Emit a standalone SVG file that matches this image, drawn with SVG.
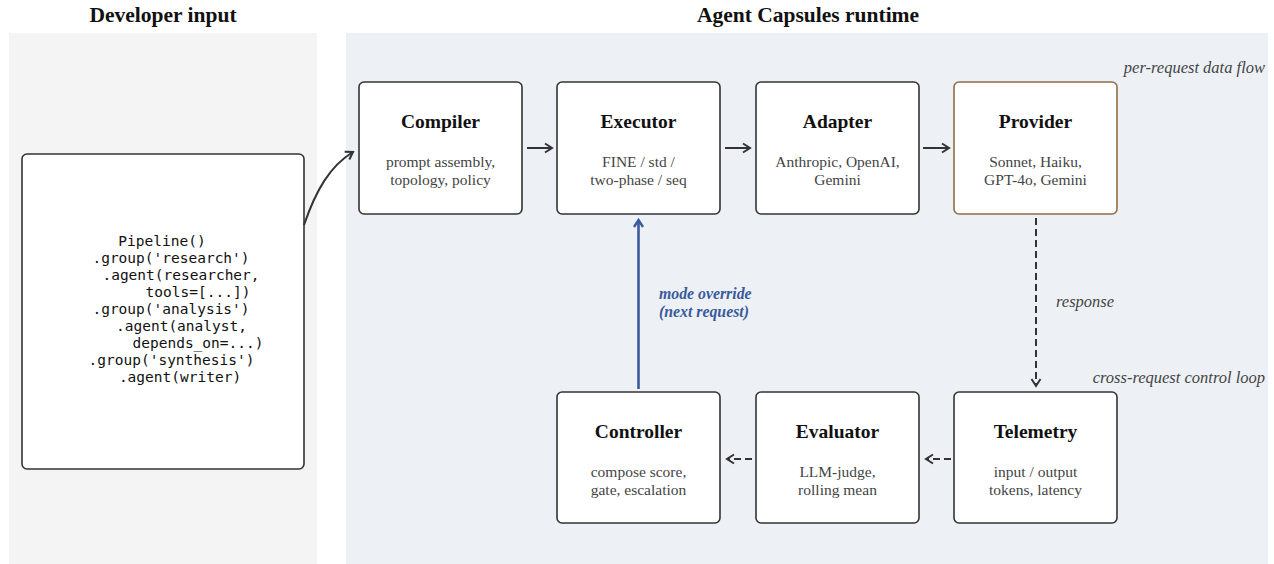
<svg xmlns="http://www.w3.org/2000/svg" width="1274" height="564" viewBox="0 0 1274 564">
<defs>
<style>
.panelL{fill:#f4f4f4}
.panelR{fill:#edf1f5}
.hdr{font-family:"Liberation Serif",serif;font-weight:bold;font-size:21.5px;fill:#111;text-anchor:middle}
.box{fill:#fff;stroke:#333;stroke-width:1.6}
.prov{fill:#fff;stroke:#8e6f42;stroke-width:1.6}
.t{font-family:"Liberation Serif",serif;font-weight:bold;font-size:19.5px;fill:#111;text-anchor:middle}
.s{font-family:"Liberation Serif",serif;font-size:15.5px;fill:#444;text-anchor:middle}
.code{font-family:"DejaVu Sans Mono",monospace;font-size:14.5px;fill:#111;text-anchor:middle}
.note{font-family:"Liberation Serif",serif;font-style:italic;font-size:16.5px;fill:#444}
.blue{font-family:"Liberation Serif",serif;font-style:italic;font-weight:bold;font-size:15.8px;fill:#3a5a9c}
.c{fill:none;stroke:#333;stroke-width:2}
.d{fill:none;stroke:#333;stroke-width:2;stroke-dasharray:7,4}
.b{fill:none;stroke:#3a5a9c;stroke-width:2.6}
</style>
<marker id="ah" viewBox="0 0 12 12" refX="10" refY="6" markerWidth="12" markerHeight="12" markerUnits="userSpaceOnUse" orient="auto">
<path d="M3,1.5 L10,6 L3,10.5" fill="none" stroke="#333" stroke-width="2"/>
</marker>
<marker id="ahb" viewBox="0 0 12 12" refX="10" refY="6" markerWidth="12" markerHeight="12" markerUnits="userSpaceOnUse" orient="auto">
<path d="M3,1.5 L10,6 L3,10.5" fill="none" stroke="#3a5a9c" stroke-width="2.4"/>
</marker>
</defs>

<g id="panels">
<rect class="panelL" x="9" y="33" width="308" height="531"/>
<rect class="panelR" x="346" y="33" width="922" height="531"/>
<text class="hdr" x="163" y="22">Developer input</text>
<text class="hdr" x="808" y="22">Agent Capsules runtime</text>
</g>

<g id="code">
<rect class="box" x="22" y="154" width="282" height="315" rx="5"/>
<text class="code" x="162" y="246">Pipeline()</text>
<text class="code" x="171" y="263">.group('research')</text>
<text class="code" x="181" y="280">.agent(researcher,</text>
<text class="code" x="198" y="297">tools=[...])</text>
<text class="code" x="171" y="314">.group('analysis')</text>
<text class="code" x="181.5" y="331">.agent(analyst,</text>
<text class="code" x="198" y="348">depends_on=...)</text>
<text class="code" x="171.5" y="365">.group('synthesis')</text>
<text class="code" x="180" y="382">.agent(writer)</text>
</g>

<g id="compiler">
<rect class="box" x="359" y="82" width="163" height="132" rx="5"/>
<text class="t" x="440.5" y="128">Compiler</text>
<text class="s" x="440.5" y="167">prompt assembly,</text>
<text class="s" x="440.5" y="185">topology, policy</text>
</g>
<g id="executor">
<rect class="box" x="557" y="82" width="163" height="132" rx="5"/>
<text class="t" x="638.5" y="128">Executor</text>
<text class="s" x="638.5" y="167">FINE / std /</text>
<text class="s" x="638.5" y="185">two-phase / seq</text>
</g>
<g id="adapter">
<rect class="box" x="756" y="82" width="163" height="132" rx="5"/>
<text class="t" x="837.5" y="128">Adapter</text>
<text class="s" x="837.5" y="167">Anthropic, OpenAI,</text>
<text class="s" x="837.5" y="185">Gemini</text>
</g>
<g id="provider">
<rect class="prov" x="954" y="82" width="163" height="132" rx="5"/>
<text class="t" x="1035.5" y="128">Provider</text>
<text class="s" x="1035.5" y="167">Sonnet, Haiku,</text>
<text class="s" x="1035.5" y="185">GPT-4o, Gemini</text>
</g>
<g id="controller">
<rect class="box" x="557" y="392" width="163" height="131" rx="5"/>
<text class="t" x="638.5" y="438">Controller</text>
<text class="s" x="638.5" y="477">compose score,</text>
<text class="s" x="638.5" y="495">gate, escalation</text>
</g>
<g id="evaluator">
<rect class="box" x="756" y="392" width="163" height="131" rx="5"/>
<text class="t" x="837.5" y="438">Evaluator</text>
<text class="s" x="837.5" y="477">LLM-judge,</text>
<text class="s" x="837.5" y="495">rolling mean</text>
</g>
<g id="telemetry">
<rect class="box" x="954" y="392" width="163" height="131" rx="5"/>
<text class="t" x="1035.5" y="438">Telemetry</text>
<text class="s" x="1035.5" y="477">input / output</text>
<text class="s" x="1035.5" y="495">tokens, latency</text>
</g>

<g id="connectors">
<path class="c" d="M304,225 C316,190 330,166 353,152" marker-end="url(#ah)"/>
<path class="c" d="M527,148 L552,148" marker-end="url(#ah)"/>
<path class="c" d="M725,148 L750,148" marker-end="url(#ah)"/>
<path class="c" d="M923,148 L949,148" marker-end="url(#ah)"/>
<path class="d" d="M1036,218 L1036,386" marker-end="url(#ah)"/>
<path class="d" d="M951,459 L926,459" marker-end="url(#ah)"/>
<path class="d" d="M752,459 L727,459" marker-end="url(#ah)"/>
<path class="b" d="M638.5,389 L638.5,220" marker-end="url(#ahb)"/>
<text class="note" x="1056" y="307">response</text>
<text class="blue" x="659" y="299">mode override</text>
<text class="blue" x="659" y="317">(next request)</text>
</g>
<g id="notes">
<text class="note" x="1265" y="73" text-anchor="end">per-request data flow</text>
<text class="note" x="1265" y="383" text-anchor="end">cross-request control loop</text>
</g>
</svg>
